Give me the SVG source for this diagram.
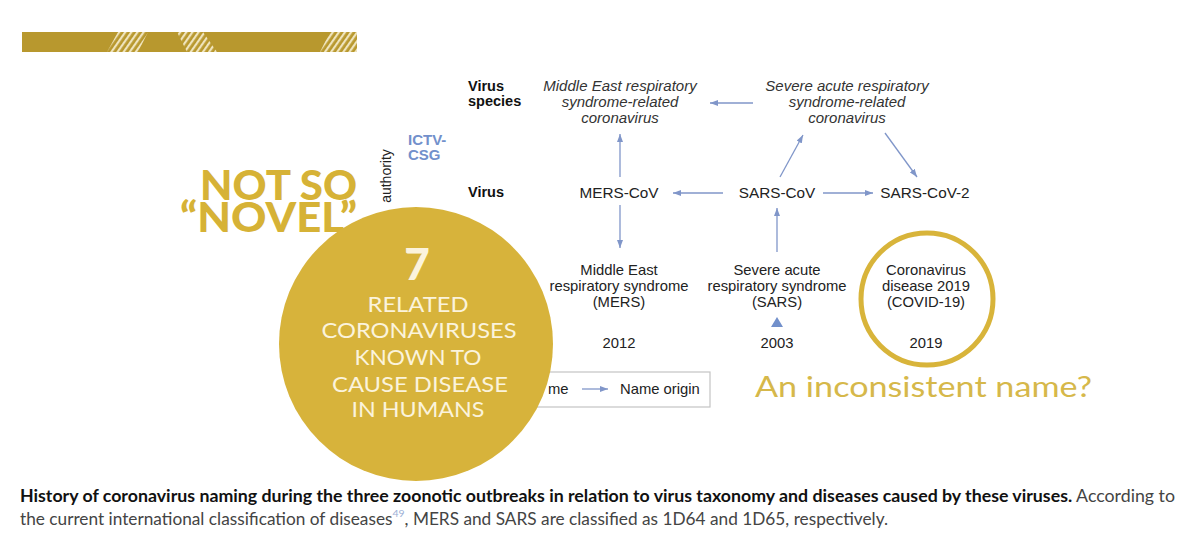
<svg xmlns="http://www.w3.org/2000/svg" width="1200" height="548" viewBox="0 0 1200 548">
<style>
.t{font-family:"Liberation Sans",Arial,sans-serif;fill:#222;font-size:14px}
.it{font-family:"Liberation Sans",Arial,sans-serif;fill:#333;font-size:15px;font-style:italic;text-anchor:middle}
.n{font-family:"Liberation Sans",Arial,sans-serif;fill:#222;font-size:15.3px;text-anchor:middle}
.d{font-family:"Liberation Sans",Arial,sans-serif;fill:#222;font-size:14.8px;text-anchor:middle}
.ds{font-family:"Liberation Sans",Arial,sans-serif;fill:#222;font-size:14.8px}
.lb{font-family:"Liberation Sans",Arial,sans-serif;fill:#111;font-size:14.5px;font-weight:bold}
.edge{stroke:#8096c9;stroke-width:1.3;fill:none;marker-end:url(#ah)}
.ct{font-family:Lato,"Noto Sans",sans-serif;fill:#fbf3dc;font-size:21.5px;text-anchor:middle}
.cap{font-family:Lato,"Noto Sans",sans-serif;font-size:16.5px}
</style>
<defs>
<marker id="ah" markerUnits="userSpaceOnUse" markerWidth="8" markerHeight="6" refX="8" refY="3" orient="auto">
<path d="M0,0 L8,3 L0,6 z" fill="#8096c9"/>
</marker>
<pattern id="hatch" width="5" height="5" patternUnits="userSpaceOnUse" patternTransform="rotate(35)">
<rect width="5" height="5" fill="#b8982e"/>
<rect width="2.2" height="5" fill="#efe4bd"/>
</pattern>
</defs>
<rect width="1200" height="548" fill="#ffffff"/>

<g id="banner">
<rect x="22" y="32" width="335" height="20" fill="#b8982e"/>
<polygon points="118,32 148,32 138,52 107,52" fill="url(#hatch)"/>
<polygon points="177,32 203,32 217,52 187,52" fill="url(#hatch)"/>
<polygon points="330,32 357,32 357,52 320,52" fill="url(#hatch)"/>
</g>

<g id="title-not-so-novel">
<text text-anchor="end" font-family="Lato,'Noto Sans',sans-serif" font-weight="900" font-size="41" fill="#d6b236"><tspan x="357" y="200" textLength="157" lengthAdjust="spacingAndGlyphs">NOT SO</tspan><tspan x="357" y="232" textLength="177" lengthAdjust="spacingAndGlyphs">“NOVEL”</tspan></text>
</g>

<g id="authority-label">
<text class="t" transform="translate(391,176) rotate(-90)" text-anchor="middle" font-size="14">authority</text>
</g>
<g id="ictv-csg">
<text x="408" y="145" font-family="'Liberation Sans',Arial,sans-serif" font-weight="bold" font-size="15" fill="#7290cb">ICTV-</text>
<text x="408" y="160" font-family="'Liberation Sans',Arial,sans-serif" font-weight="bold" font-size="15" fill="#7290cb">CSG</text>
</g>

<g id="row-labels">
<text class="lb" x="468" y="91">Virus</text>
<text class="lb" x="468" y="106">species</text>
<text class="lb" x="468" y="197">Virus</text>
</g>

<g id="connectors">
<line class="edge" x1="753" y1="103" x2="710" y2="103"/>
<line class="edge" x1="620" y1="177" x2="620" y2="134"/>
<line class="edge" x1="780" y1="177" x2="803" y2="135"/>
<line class="edge" x1="885" y1="133" x2="917" y2="177"/>
<line class="edge" x1="723" y1="193" x2="673" y2="193"/>
<line class="edge" x1="823" y1="193" x2="873" y2="193"/>
<line class="edge" x1="620" y1="205" x2="620" y2="248"/>
<line class="edge" x1="777" y1="252" x2="777" y2="208"/>
</g>

<g id="species-mers">
<text class="it" x="620" y="91">Middle East respiratory</text>
<text class="it" x="620" y="107">syndrome-related</text>
<text class="it" x="620" y="123">coronavirus</text>
</g>
<g id="species-sars">
<text class="it" x="847" y="91">Severe acute respiratory</text>
<text class="it" x="847" y="107">syndrome-related</text>
<text class="it" x="847" y="123">coronavirus</text>
</g>

<g id="virus-mers-cov"><text class="n" x="619" y="198">MERS-CoV</text></g>
<g id="virus-sars-cov"><text class="n" x="777" y="198">SARS-CoV</text></g>
<g id="virus-sars-cov-2"><text class="n" x="925" y="198">SARS-CoV-2</text></g>

<g id="disease-mers">
<text class="d" x="619" y="275">Middle East</text>
<text class="d" x="619" y="291">respiratory syndrome</text>
<text class="d" x="619" y="307">(MERS)</text>
<text class="d" x="619" y="348">2012</text>
</g>
<g id="disease-sars">
<text class="d" x="777" y="275">Severe acute</text>
<text class="d" x="777" y="291">respiratory syndrome</text>
<text class="d" x="777" y="307">(SARS)</text>
<polygon points="777,317 783,327 771,327" fill="#7290cb"/>
<text class="d" x="777" y="348">2003</text>
</g>
<g id="disease-covid">
<circle cx="927" cy="299" r="66" fill="none" stroke="#d8b43a" stroke-width="5"/>
<text class="d" x="926" y="275">Coronavirus</text>
<text class="d" x="926" y="291">disease 2019</text>
<text class="d" x="926" y="307">(COVID-19)</text>
<text class="d" x="926" y="348">2019</text>
</g>

<g id="legend">
<rect x="470" y="372" width="240" height="35" fill="none" stroke="#c4c4c4" stroke-width="1.2"/>
<text class="ds" x="548" y="394">me</text>
<line class="edge" x1="582" y1="389" x2="608" y2="389"/>
<text class="ds" x="620" y="394">Name origin</text>
</g>

<g id="inconsistent-name">
<text x="755" y="397" font-family="Lato,'Noto Sans',sans-serif" font-weight="400" font-size="28" fill="#d6b84a" textLength="337" lengthAdjust="spacingAndGlyphs">An inconsistent name?</text>
</g>

<g id="seven-circle">
<circle cx="416" cy="344" r="137" fill="#d7b33b"/>
<text x="417" y="280" text-anchor="middle" font-family="Lato,'Noto Sans',sans-serif" font-weight="900" font-size="44" fill="#fbf3dc">7</text>
<text class="ct" x="418" y="312" textLength="101" lengthAdjust="spacingAndGlyphs">RELATED</text>
<text class="ct" x="419" y="338" textLength="195" lengthAdjust="spacingAndGlyphs">CORONAVIRUSES</text>
<text class="ct" x="418" y="365" textLength="127" lengthAdjust="spacingAndGlyphs">KNOWN TO</text>
<text class="ct" x="420" y="392" textLength="176" lengthAdjust="spacingAndGlyphs">CAUSE DISEASE</text>
<text class="ct" x="418" y="417" textLength="133" lengthAdjust="spacingAndGlyphs">IN HUMANS</text>
</g>

<g id="caption">
<text class="cap" x="20" y="502" textLength="1155" lengthAdjust="spacingAndGlyphs"><tspan font-weight="bold" fill="#111">History of coronavirus naming during the three zoonotic outbreaks in relation to virus taxonomy and diseases caused by these viruses.</tspan><tspan fill="#444"> According to</tspan></text>
<text class="cap" x="20" y="525" fill="#444" textLength="868" lengthAdjust="spacingAndGlyphs">the current international classification of diseases<tspan font-size="10" dy="-8" fill="#9db0d6">49</tspan><tspan dy="8">, MERS and SARS are classified as 1D64 and 1D65, respectively.</tspan></text>
</g>
</svg>
